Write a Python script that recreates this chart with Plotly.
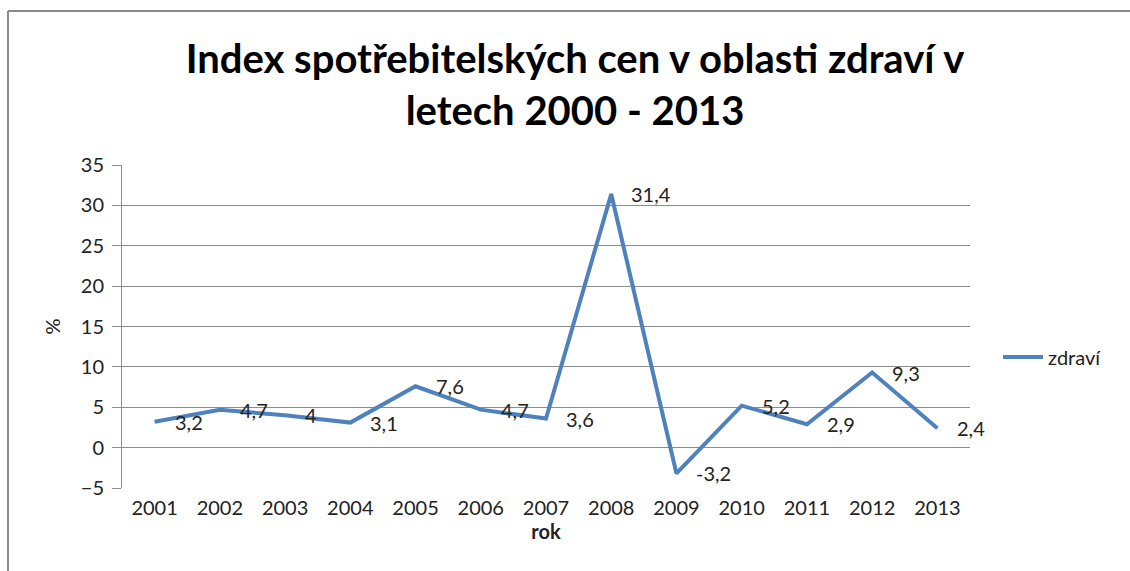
import plotly.graph_objects as go

years = ["2001", "2002", "2003", "2004", "2005", "2006", "2007",
         "2008", "2009", "2010", "2011", "2012", "2013"]
zdravi = [3.2, 4.7, 4.0, 3.1, 7.6, 4.7, 3.6, 31.4, -3.2, 5.2, 2.9, 9.3, 2.4]
labels = [f"{v:g}".replace(".", ",") for v in zdravi]

font = "Lato, 'Open Sans', sans-serif"
grid = "#8c8c8c"
fs = 20

W, H = 1130, 571
L, R, T, B = 122, 160, 165, 83
pw, ph = W - L - R, H - T - B

fig = go.Figure()
fig.add_trace(go.Scatter(
    x=years, y=zdravi, mode="lines", name="zdraví",
    line=dict(color="#4f81bd", width=4),
))

# data labels to the right of each point (x given as category index)
for i, (v, lab) in enumerate(zip(zdravi, labels)):
    fig.add_annotation(x=i, y=v, text=lab, showarrow=False,
                       xanchor="left", yanchor="middle", xshift=18,
                       font=dict(family=font, size=fs, color="#222"))

fig.update_layout(
    width=W, height=H,
    margin=dict(l=L, r=R, t=T, b=B),
    paper_bgcolor="white", plot_bgcolor="white",
    font=dict(family=font, size=fs, color="#222"),
    title=dict(
        text="<b>Index spotřebitelských cen v oblasti zdraví v<br>letech 2000 - 2013</b>",
        x=575 / W, xanchor="center", y=1 - 73 / H, yanchor="middle",
        font=dict(size=40, color="black"),
    ),
    xaxis=dict(
        type="category", range=[-0.5, 12.5],
        showgrid=False, showline=False, ticks="", ticklabelstandoff=6,
        title=dict(text="<b>rok</b>", font=dict(size=fs), standoff=6),
    ),
    yaxis=dict(
        range=[-5, 35], dtick=5, showgrid=True, gridcolor=grid, gridwidth=1,
        zeroline=False, showline=True, linecolor=grid, linewidth=1,
        ticks="outside", ticklen=9, tickcolor=grid, ticklabelstandoff=4,
        title=dict(text="%", font=dict(size=fs), standoff=14),
    ),
    legend=dict(x=1 + 28 / pw, y=1 - 192 / ph, xanchor="left", yanchor="middle",
                font=dict(size=fs), bgcolor="rgba(0,0,0,0)",
                itemwidth=40),
    showlegend=True,
)

# chart frame (top and left edges visible)
fig.add_shape(type="line", xref="paper", yref="paper",
              x0=(8 - L) / pw, x1=(W + 5 - L) / pw,
              y0=1 + (T - 11) / ph, y1=1 + (T - 11) / ph,
              line=dict(color="#8a8a8a", width=2))
fig.add_shape(type="line", xref="paper", yref="paper",
              x0=(8 - L) / pw, x1=(8 - L) / pw,
              y0=1 + (T - 11) / ph, y1=-(B + 5) / ph,
              line=dict(color="#8a8a8a", width=2))

fig.write_html("out.html", config={"displayModeBar": False},
               post_script="document.body.style.margin='0';")
